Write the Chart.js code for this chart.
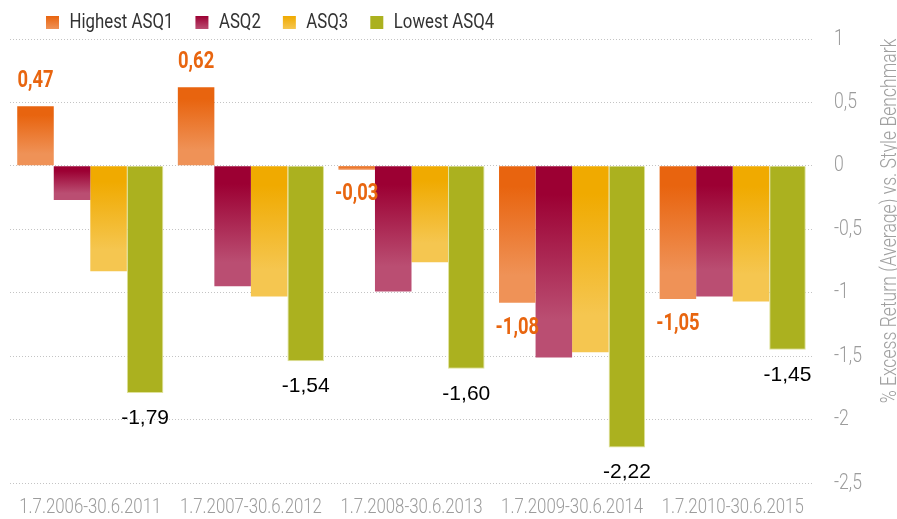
<!DOCTYPE html>
<html>
<head>
<meta charset="utf-8">
<script src="https://cdn.jsdelivr.net/npm/chart.js@4.4.1/dist/chart.umd.min.js"></script>
<style>
  html, body { margin: 0; padding: 0; background: #ffffff; }
  #wrap { width: 897px; height: 519px; position: relative; }
</style>
</head>
<body>
<div id="wrap"><canvas id="c" width="897" height="519"></canvas></div>
<script>
// ---- data ----
const categories = ['1.7.2006-30.6.2011', '1.7.2007-30.6.2012', '1.7.2008-30.6.2013', '1.7.2009-30.6.2014', '1.7.2010-30.6.2015'];
const seriesNames = ['Highest ASQ1', 'ASQ2', 'ASQ3', 'Lowest ASQ4'];
const asq1 = [0.47, 0.62, -0.03, -1.08, -1.05];
const asq2 = [-0.27, -0.95, -0.99, -1.51, -1.03];
const asq3 = [-0.83, -1.03, -0.76, -1.47, -1.07];
const asq4 = [-1.79, -1.54, -1.60, -2.22, -1.45];
const yMin = -2.5, yMax = 1, yStep = 0.5;
const axisTitle = '% Excess Return (Average) vs. Style Benchmark';

// ---- styles ----
const COND = "Roboto, 'DejaVu Sans', sans-serif";   // drawn horizontally condensed
const REGULAR = "'Liberation Sans', Arial, sans-serif";
const SX = 0.8;
const gradTop = ['#E8640F', '#9C0033', '#F0AA00', '#ABB11F'];
const gradBottom = ['#EF9257', '#BA4E72', '#F5C650', null];
const fmt = v => v.toFixed(2).replace('.', ',');

// condensed rendering of Roboto text (emulates a narrow typeface)
const canvas = document.getElementById('c');
const ctx2d = canvas.getContext('2d');
(function patch(ctx) {
  const origFill = ctx.fillText.bind(ctx);
  const origMeasure = ctx.measureText.bind(ctx);
  const isCond = () => /Roboto/.test(ctx.font);
  ctx.fillText = function (text, x, y, maxWidth) {
    if (!isCond()) {
      return maxWidth === undefined ? origFill(text, x, y) : origFill(text, x, y, maxWidth);
    }
    ctx.save();
    ctx.translate(x, y);
    ctx.scale(SX, 1);
    origFill(text, 0, 0);
    ctx.restore();
  };
  ctx.measureText = function (text) {
    const m = origMeasure(text);
    if (!isCond()) return m;
    return {
      width: m.width * SX,
      actualBoundingBoxAscent: m.actualBoundingBoxAscent,
      actualBoundingBoxDescent: m.actualBoundingBoxDescent,
      actualBoundingBoxLeft: m.actualBoundingBoxLeft * SX,
      actualBoundingBoxRight: m.actualBoundingBoxRight * SX
    };
  };
})(ctx2d);

function barFill(i) {
  return (ctx) => {
    if (!gradBottom[i]) return gradTop[i];
    const chart = ctx.chart;
    const ys = chart.scales && chart.scales.y;
    if (!ys || ctx.type !== 'data') return gradTop[i];
    const p0 = ys.getPixelForValue(0), p1 = ys.getPixelForValue(ctx.raw);
    const a = Math.min(p0, p1), b = Math.max(p0, p1);
    if (b - a < 2) return gradTop[i];
    const g = chart.ctx.createLinearGradient(0, a, 0, b);
    g.addColorStop(0, gradTop[i]);
    g.addColorStop(0.15, gradTop[i]);
    g.addColorStop(0.8, gradBottom[i]);
    g.addColorStop(1, gradBottom[i]);
    return g;
  };
}

const seriesValues = [asq1, asq2, asq3, asq4];
const datasets = seriesValues.map((vals, i) => ({
  label: seriesNames[i],
  data: vals,
  backgroundColor: barFill(i),
  borderColor: i === 3 ? '#dfe29a' : 'rgba(0,0,0,0)',
  borderWidth: i === 3 ? 1 : 0,
  categoryPercentage: 0.91,
  barPercentage: 1.0
}));

// value labels for first and last series
const valueLabels = {
  id: 'valueLabels',
  afterDatasetsDraw(chart) {
    const c = chart.ctx;
    const specs = [
      { ds: 0, color: '#E8650F', font: 'bold 23px ' + COND },
      { ds: 3, color: '#000000', font: '21px ' + REGULAR }
    ];
    c.save();
    c.textAlign = 'center';
    c.textBaseline = 'middle';
    specs.forEach(s => {
      const meta = chart.getDatasetMeta(s.ds);
      const vals = chart.data.datasets[s.ds].data;
      c.fillStyle = s.color;
      c.font = s.font;
      meta.data.forEach((bar, j) => {
        const v = vals[j];
        const off = v >= 0 ? -25 : 25;
        c.fillText(fmt(v), bar.x, bar.y + off);
      });
    });
    c.restore();
  }
};

// rotated axis title on the right (reads bottom to top)
const rightTitle = {
  id: 'rightTitle',
  afterDraw(chart) {
    const c = chart.ctx;
    c.save();
    c.translate(896, 221);
    c.rotate(-Math.PI / 2);
    c.textAlign = 'center';
    c.textBaseline = 'alphabetic';
    c.fillStyle = '#a0a0a0';
    c.font = '300 22px ' + COND;
    c.fillText(axisTitle, 0, 0);
    c.restore();
  }
};

// place the legend like the reference (left-ish, near top)
const legendPlace = {
  id: 'legendPlace',
  beforeDraw(chart) {
    const l = chart.legend;
    if (!l) return;
    const w = l.right - l.left;
    l.left = 24; l.right = 24 + w;
    l.top = -10;
  }
};

new Chart(ctx2d, {
  type: 'bar',
  data: { labels: categories, datasets },
  plugins: [valueLabels, rightTitle, legendPlace],
  options: {
    responsive: false,
    animation: false,
    devicePixelRatio: 1,
    layout: { padding: { left: 10, right: 0, top: 0, bottom: 0 } },
    plugins: {
      tooltip: { enabled: false },
      legend: {
        position: 'top',
        align: 'start',
        maxHeight: 39,
        labels: {
          boxWidth: 13,
          boxHeight: 13,
          padding: 22,
          color: '#333333',
          font: { family: COND, size: 21 },
          generateLabels(chart) {
            const c = chart.ctx;
            return chart.data.datasets.map((ds, i) => {
              let fill = gradTop[i];
              if (gradBottom[i]) {
                const g = c.createLinearGradient(0, 16, 0, 29);
                g.addColorStop(0, gradTop[i]);
                g.addColorStop(1, gradBottom[i]);
                fill = g;
              }
              return { text: ds.label, fillStyle: fill, strokeStyle: 'rgba(0,0,0,0)', lineWidth: 0, hidden: false, datasetIndex: i, fontColor: '#333333' };
            });
          }
        }
      }
    },
    scales: {
      x: {
        grid: { display: false, drawTicks: false },
        border: { display: false },
        ticks: { color: '#9c9c9c', font: { family: COND, size: 21, weight: 300 }, padding: 12, maxRotation: 0, autoSkip: false },
        afterFit(scale) { scale.height = 36; }
      },
      y: {
        position: 'right',
        min: yMin,
        max: yMax,
        grid: { color: '#c4c4c4', lineWidth: 1, drawTicks: false },
        border: { display: false, dash: [1, 2] },
        ticks: {
          stepSize: yStep,
          color: '#9c9c9c',
          font: { family: COND, size: 22, weight: 300 },
          padding: 21,
          callback: v => String(v).replace('.', ',')
        },
        afterFit(scale) { scale.width = 84; }
      }
    }
  }
});
</script>
</body>
</html>
